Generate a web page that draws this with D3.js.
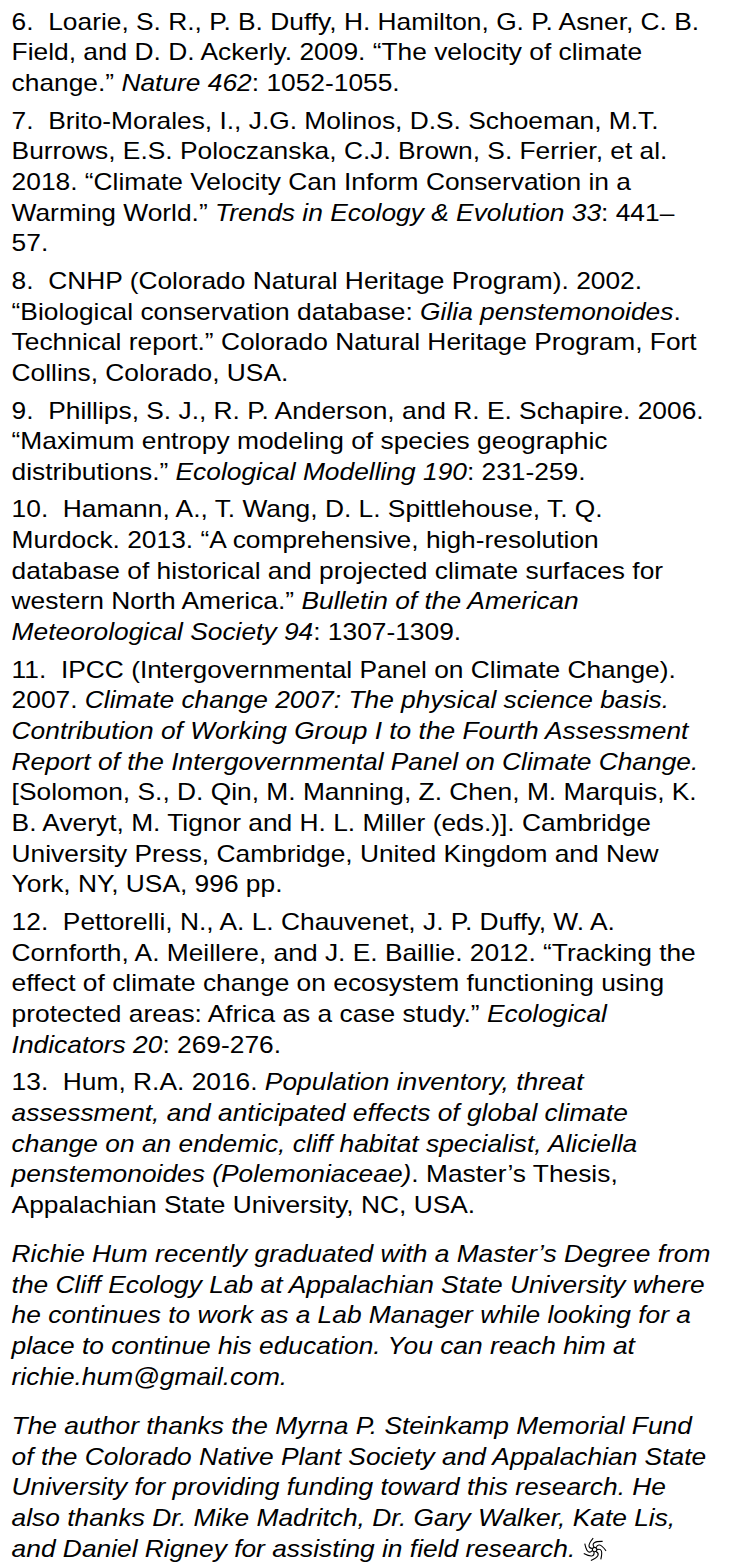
<!DOCTYPE html>
<html><head><meta charset="utf-8">
<script src="https://cdn.jsdelivr.net/npm/d3@7"></script>
<style>html,body{margin:0;padding:0;background:#fff}</style>
</head><body><div id="page"></div>
<script>
// Text content: one array per paragraph, one string per line; *...* marks italic runs.
const ref6 = [
  "6.  Loarie, S. R., P. B. Duffy, H. Hamilton, G. P. Asner, C. B.",
  "Field, and D. D. Ackerly. 2009. “The velocity of climate",
  "change.” *Nature 462*: 1052-1055."
];
const ref7 = [
  "7.  Brito-Morales, I., J.G. Molinos, D.S. Schoeman, M.T.",
  "Burrows, E.S. Poloczanska, C.J. Brown, S. Ferrier, et al.",
  "2018. “Climate Velocity Can Inform Conservation in a",
  "Warming World.” *Trends in Ecology & Evolution 33*: 441–",
  "57."
];
const ref8 = [
  "8.  CNHP (Colorado Natural Heritage Program). 2002.",
  "“Biological conservation database: *Gilia penstemonoides*.",
  "Technical report.” Colorado Natural Heritage Program, Fort",
  "Collins, Colorado, USA."
];
const ref9 = [
  "9.  Phillips, S. J., R. P. Anderson, and R. E. Schapire. 2006.",
  "“Maximum entropy modeling of species geographic",
  "distributions.” *Ecological Modelling 190*: 231-259."
];
const ref10 = [
  "10.  Hamann, A., T. Wang, D. L. Spittlehouse, T. Q.",
  "Murdock. 2013. “A comprehensive, high-resolution",
  "database of historical and projected climate surfaces for",
  "western North America.” *Bulletin of the American*",
  "*Meteorological Society 94*: 1307-1309."
];
const ref11 = [
  "11.  IPCC (Intergovernmental Panel on Climate Change).",
  "2007. *Climate change 2007: The physical science basis.*",
  "*Contribution of Working Group I to the Fourth Assessment*",
  "*Report of the Intergovernmental Panel on Climate Change.*",
  "[Solomon, S., D. Qin, M. Manning, Z. Chen, M. Marquis, K.",
  "B. Averyt, M. Tignor and H. L. Miller (eds.)]. Cambridge",
  "University Press, Cambridge, United Kingdom and New",
  "York, NY, USA, 996 pp."
];
const ref12 = [
  "12.  Pettorelli, N., A. L. Chauvenet, J. P. Duffy, W. A.",
  "Cornforth, A. Meillere, and J. E. Baillie. 2012. “Tracking the",
  "effect of climate change on ecosystem functioning using",
  "protected areas: Africa as a case study.” *Ecological*",
  "*Indicators 20*: 269-276."
];
const ref13 = [
  "13.  Hum, R.A. 2016. *Population inventory, threat*",
  "*assessment, and anticipated effects of global climate*",
  "*change on an endemic, cliff habitat specialist, Aliciella*",
  "*penstemonoides (Polemoniaceae)*. Master’s Thesis,",
  "Appalachian State University, NC, USA."
];
const bio = [
  "*Richie Hum recently graduated with a Master’s Degree from*",
  "*the Cliff Ecology Lab at Appalachian State University where*",
  "*he continues to work as a Lab Manager while looking for a*",
  "*place to continue his education. You can reach him at*",
  "*richie.hum@gmail.com.*"
];
const thanks = [
  "*The author thanks the Myrna P. Steinkamp Memorial Fund*",
  "*of the Colorado Native Plant Society and Appalachian State*",
  "*University for providing funding toward this research. He*",
  "*also thanks Dr. Mike Madritch, Dr. Gary Walker, Kate Lis,*",
  "*and Daniel Rigney for assisting in field research. *"
];
const paragraphs = [ref6, ref7, ref8, ref9, ref10, ref11, ref12, ref13, bio, thanks];
const gapKind = ["none", "ref", "ref", "ref", "ref", "ref", "ref", "ref", "block", "block"];

const W = 734, H = 1564;
const fontSize = 23.2, sx = 1.136, lineStep = 30.66, x0 = 11.6, y0 = 29.6;
const gapSize = {none: 0, ref: 7, block: 18.5};

const svg = d3.select("#page").append("svg")
  .attr("width", W).attr("height", H)
  .style("display", "block");
svg.append("rect").attr("width", W).attr("height", H).attr("fill", "#fff");

// cumulative vertical offset -> pixel baseline
const yScale = d3.scaleLinear().domain([0, 1]).range([y0, y0 + 1]);

const g = svg.append("g")
  .attr("transform", `scale(${sx},1)`)
  .attr("font-family", "'Liberation Sans', Arial, Helvetica, sans-serif")
  .attr("font-size", fontSize)
  .attr("fill", "#000");

let yPos = 0;
let lastText = null, lastY = 0;
paragraphs.forEach((para, pi) => {
  yPos += gapSize[gapKind[pi]];
  para.forEach(line => {
    const t = g.append("text")
      .attr("x", x0 / sx)
      .attr("y", yScale(yPos))
      .attr("xml:space", "preserve")
      .style("white-space", "pre");
    line.split("*").forEach((seg, si) => {
      if (!seg) return;
      t.append("tspan").text(seg).attr("font-style", si % 2 ? "italic" : "normal");
    });
    lastText = t; lastY = yScale(yPos);
    yPos += lineStep;
  });
});

// end-of-article swirl mark
const endX = x0 + lastText.node().getComputedTextLength() * sx + 12;
const r = 11.5;
const cx = endX, cy = lastY - 7;
const mark = svg.append("g").attr("transform", `translate(${cx},${cy})`)
  .attr("fill", "none").attr("stroke", "#000").attr("stroke-width", 1.1);
d3.range(7).forEach(k => {
  const a = k * 2 * Math.PI / 7;
  const p = d3.path();
  p.moveTo(2.5 * Math.cos(a), 2.5 * Math.sin(a));
  p.quadraticCurveTo(9.5 * Math.cos(a - 0.25), 9.5 * Math.sin(a - 0.25), r * Math.cos(a + 1.0), r * Math.sin(a + 1.0));
  mark.append("path").attr("d", p.toString());
});
mark.append("circle").attr("r", 2.2);
</script>
</body></html>
